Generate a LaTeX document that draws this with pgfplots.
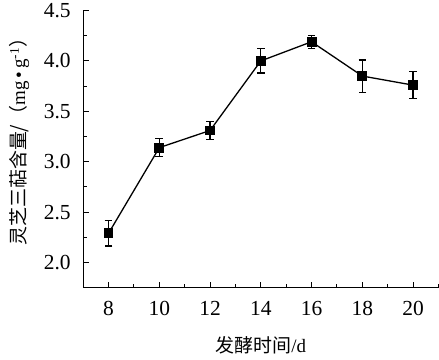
\documentclass[border=0pt]{standalone}
\usepackage{pgfplots}
\pgfplotsset{compat=1.18}
\usepackage{fontspec}
\setmainfont{Liberation Serif}
\newfontfamily\cjk{Noto Sans CJK SC}
\begin{document}
\begin{tikzpicture}[x=1bp,y=1bp]
\begin{axis}[
  scale only axis,
  width=355bp, height=277bp,
  xmin=7, xmax=21, ymin=1.75, ymax=4.5,
  axis lines=left,
  axis line style={-, line width=1.1bp},
  tick align=inside,
  xtick={8,10,...,20},
  minor xtick={9,11,...,19,21},
  ytick={2.0,2.5,...,4.5},
  minor ytick={1.75,2.25,...,4.25},
  major tick length=6bp, minor tick length=3.5bp,
  tick style={line width=1bp, black},
  y tick label style={/pgf/number format/fixed, /pgf/number format/fixed zerofill, /pgf/number format/precision=1},
  /pgf/number format/assume math mode=true,
  ticklabel style={font=\fontsize{21.5}{23}\selectfont},
  xticklabel style={yshift=-10bp},
  yticklabel style={xshift=-9bp},
  xlabel={{\cjk 发酵时间}/d},
  ylabel={{\cjk 灵芝三萜含量/（}mg\,•\,g\textsuperscript{-1}{\cjk ）}},
  xlabel style={font=\fontsize{19}{21}\selectfont, yshift=-11bp, inner ysep=6bp},
  ylabel style={font=\fontsize{19}{21}\selectfont, yshift=2bp, xshift=12bp, inner ysep=9bp},
  clip=false,
]
\addplot[black, line width=1.3bp, mark=square*, mark size=4.3bp,
  error bars/.cd, y dir=both, y explicit,
  error bar style={line width=1.2bp, black},
  error mark options={rotate=90, mark size=3.8bp, line width=1.2bp}]
  coordinates {
  (8,2.29) +- (0,0.125)
  (10,3.14) +- (0,0.09)
  (12,3.31) +- (0,0.09)
  (14,4.00) +- (0,0.12)
  (16,4.19) +- (0,0.065)
  (18,3.85) +- (0,0.16)
  (20,3.76) +- (0,0.135)
  };
\end{axis}
\end{tikzpicture}
\end{document}
